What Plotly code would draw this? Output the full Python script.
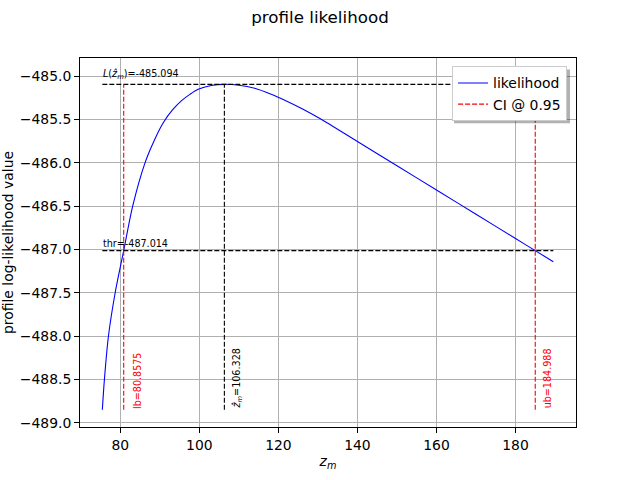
import plotly.graph_objects as go

# profile likelihood curve
z_m = [75.45, 75.98, 77.0, 78.7, 80.8575, 83.13, 86.25, 88.5, 90.9, 93.2, 95.5, 97.6,
       99.7, 103.0, 106.33, 110.0, 114.0, 118.0, 122.0, 126.0, 130.5, 140.0, 150.0,
       160.0, 170.0, 180.0, 184.99, 189.56]
loglik = [-488.85, -488.50, -488.00, -487.50, -487.014, -486.50, -486.00, -485.75,
          -485.535, -485.39, -485.282, -485.21, -485.152, -485.108, -485.094, -485.104,
          -485.14, -485.205, -485.285, -485.375, -485.488, -485.754, -486.034, -486.314,
          -486.594, -486.874, -487.014, -487.142]

z_hat = 106.328
L_max = -485.094
thr = -487.014
lb = 80.8575
ub = 184.988
ci_level = 0.95

x_min, x_max = z_m[0], z_m[-1]
y_min = min(loglik)

dash = "5px,2px"
fig = go.Figure()

fig.add_trace(go.Scatter(x=z_m, y=loglik, mode="lines", name="likelihood",
                         line=dict(color="#0000ff", width=1.1, shape="spline", smoothing=0.8)))
# black guide lines
fig.add_trace(go.Scatter(x=[x_min, x_max, None, x_min, x_max, None, z_hat, z_hat],
                         y=[L_max, L_max, None, thr, thr, None, y_min, L_max],
                         mode="lines", showlegend=False,
                         line=dict(color="black", width=1.1, dash=dash)))
# CI lines
fig.add_trace(go.Scatter(x=[lb, lb, None, ub, ub], y=[y_min, L_max, None, y_min, L_max],
                         mode="lines", name=f"CI @ {ci_level}",
                         line=dict(color="#ff0000", width=1.1, dash=dash)))

fs = 9.6
ann = [
    dict(x=x_min, y=L_max, text=f"<i>L</i>(<i>ẑ</i><sub><i>m</i></sub>)={L_max}", xanchor="left",
         yanchor="bottom", yshift=2, textangle=0, font=dict(color="black", size=fs)),
    dict(x=x_min, y=thr, text=f"thr={thr}", xanchor="left", yanchor="bottom", yshift=1,
         textangle=0, font=dict(color="black", size=fs)),
    dict(x=lb + 1.8, y=y_min, text=f"lb={lb}", xanchor="left", yanchor="bottom",
         textangle=-90, font=dict(color="#ff0000", size=fs)),
    dict(x=z_hat + 1.5, y=y_min, text=f"<i>ẑ</i><sub><i>m</i></sub>={z_hat}", xanchor="left",
         yanchor="bottom", textangle=-90, font=dict(color="black", size=fs)),
    dict(x=ub + 1.5, y=y_min, text=f"ub={ub}", xanchor="left", yanchor="bottom",
         textangle=-90, font=dict(color="#ff0000", size=fs)),
]
for a in ann:
    a.update(xref="x", yref="y", showarrow=False, borderpad=0)
fig.update_layout(annotations=ann)

# legend shadow
fig.add_shape(type="rect", xref="paper", yref="paper", x0=0.754, x1=0.988, y0=0.823, y1=0.969,
              fillcolor="rgba(0,0,0,0.3)", line=dict(width=0), layer="above")

yt = [-485.0, -485.5, -486.0, -486.5, -487.0, -487.5, -488.0, -488.5, -489.0]
xt = [80, 100, 120, 140, 160, 180]

fig.update_layout(
    width=640, height=480,
    margin=dict(l=80, r=64, t=57.6, b=52.8, autoexpand=False),
    paper_bgcolor="white", plot_bgcolor="white",
    font=dict(family="DejaVu Sans", size=13.9, color="black"),
    title=dict(text="profile likelihood", x=0.5, xanchor="center", yref="container",
               y=0.965, yanchor="middle", font=dict(size=16.7)),
    xaxis=dict(range=[69.8, 195.3], tickvals=xt, ticktext=[str(v) for v in xt],
               showgrid=True, gridcolor="#b0b0b0", gridwidth=0.8, automargin=False,
               showline=True, linecolor="black", linewidth=1, mirror=True,
               ticks="outside", ticklen=5, tickcolor="black", zeroline=False,
               tickfont=dict(size=13.9),
               title=dict(text="<i>z</i><sub><i>m</i></sub>", standoff=4, font=dict(size=13.9))),
    yaxis=dict(range=[-489.05, -484.79], tickvals=yt,
               ticktext=[f"{v:.1f}".replace("-", "\u2212") for v in yt],
               showgrid=True, gridcolor="#b0b0b0", gridwidth=0.8, automargin=False,
               showline=True, linecolor="black", linewidth=1, mirror=True,
               ticks="outside", ticklen=5, tickcolor="black", zeroline=False,
               tickfont=dict(size=13.9),
               title=dict(text="profile log-likelihood value", standoff=6, font=dict(size=13.9))),
    legend=dict(x=0.982, y=0.977, xanchor="right", yanchor="top", bgcolor="white",
                bordercolor="#cccccc", borderwidth=1, itemwidth=30,
                font=dict(size=13.9), tracegroupgap=0),
    showlegend=True,
)

fig.write_html("out.html", post_script="document.body.style.margin='0';",
               config={"displayModeBar": False})
